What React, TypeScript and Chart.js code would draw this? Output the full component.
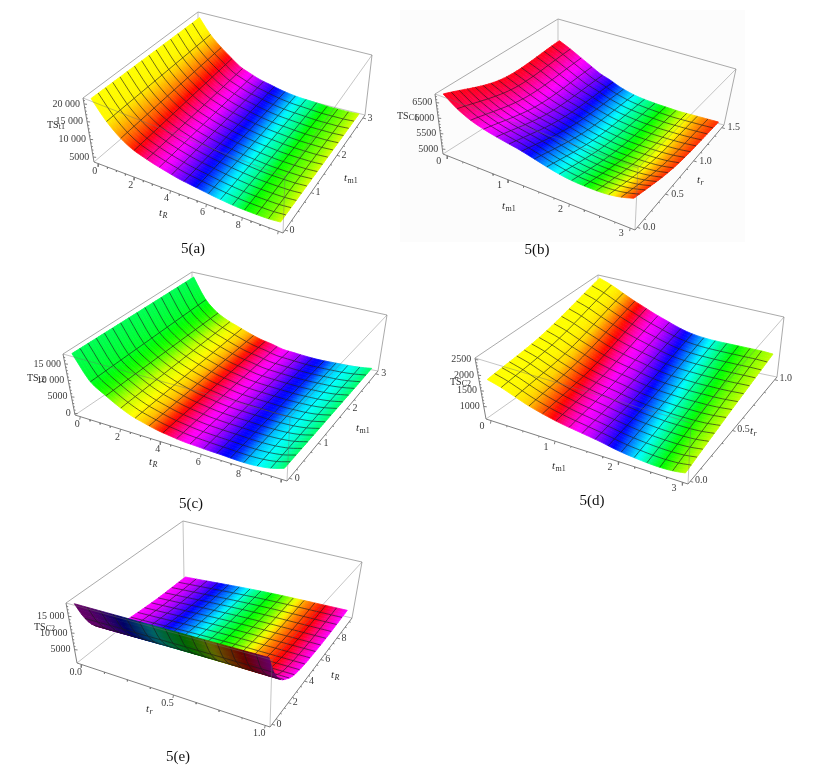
import { useEffect, useRef } from 'react';
import { Chart, registerables } from 'chart.js';

Chart.register(...registerables);

const W = 835;
const H = 773;
const MESH = 15;
const SUB_V = 3;
const SAMPLES_U = 48;
const INSET = 0.025;
const SERIF = '"Liberation Serif", "Times New Roman", serif';

// Grid positions of the 17 profile nodes along the long axis (fractions of the axis)
const nodes17 = [0, 1 / 16, 2 / 16, 3 / 16, 4 / 16, 5 / 16, 6 / 16, 7 / 16, 8 / 16, 9 / 16, 10 / 16, 11 / 16, 12 / 16, 13 / 16, 14 / 16, 15 / 16, 1];
const threeRows = [0, 0.5, 1];

// 5(a) TS_C1 over t_R, t_m1
const aNear = [21500, 16600, 13200, 11000, 9750, 8750, 7950, 7200, 6750, 6300, 5850, 5500, 5230, 5140, 5140, 5230, 5600];
const aMid = [21250, 16800, 13650, 11350, 9650, 8500, 7550, 6850, 6250, 5750, 5350, 5100, 4850, 4750, 4750, 4800, 5050];
const aFar = [21000, 17000, 14100, 11750, 9570, 8300, 7200, 6500, 5770, 5230, 4870, 4690, 4500, 4320, 4320, 4320, 4500];
const aHues = [60, 58, 35, 8, -25, -50, -68, -90, -112, -135, -165, -190, -210, -240, -255, -270, -290];

// 5(b) TS_C1 over t_m1, t_r
const bNear = [6780, 6470, 6256, 6120, 6023, 5946, 5878, 5790, 5694, 5606, 5538, 5500, 5490, 5490, 5519, 5587, 5694];
const bMid = [6120, 5965, 5810, 5674, 5568, 5490, 5412, 5325, 5238, 5180, 5131, 5102, 5092, 5092, 5102, 5131, 5189];
const bFar = [6198, 6043, 5868, 5694, 5519, 5403, 5267, 5170, 5102, 5063, 5034, 5015, 4995, 4995, 4995, 4995, 4995];
const bHues = [-5, -18, -38, -55, -68, -85, -100, -120, -148, -172, -195, -215, -238, -265, -295, -325, -350];

// 5(c) TS_t2 over t_R, t_m1
const cNear = [18000, 10970, 8010, 5605, 3755, 2645, 1720, 1165, 700, 520, 330, 240, 55, 0, 240, 795, 1905];
const cMid = [17720, 11430, 8380, 6250, 4680, 3480, 2460, 1810, 1165, 795, 610, 425, 240, 240, 330, 700, 1440];
const cFar = [17450, 11900, 8750, 6900, 5605, 4310, 3200, 2460, 1535, 1165, 795, 520, 425, 425, 425, 610, 980];
const cHues = [140, 130, 110, 75, 60, 45, 10, -25, -55, -70, -90, -115, -130, -165, -180, -195, -215];

// 5(d) TS_C2 over t_m1, t_r
const dNear = [1848, 1731, 1575, 1419, 1302, 1205, 1127, 1068, 1010, 951, 873, 815, 776, 746, 737, 756, 815];
const dMid = [2043, 1926, 1770, 1634, 1497, 1400, 1322, 1263, 1185, 1127, 1088, 1068, 1049, 1049, 1049, 1068, 1107];
const dFar = [2550, 2433, 2277, 2121, 1985, 1848, 1731, 1614, 1517, 1458, 1429, 1419, 1419, 1419, 1419, 1419, 1400];
const dHues = [60, 60, 58, 50, 25, 0, -35, -60, -72, -95, -120, -150, -180, -210, -240, -265, -285];

// 5(e) TS_C2 over t_r, t_R
const eCols = [0, 0.5, 1];
const eRows = [0, 0.05, 0.1, 0.15, 0.2, 0.3, 0.4, 0.55, 0.75, 1];
const eLeft = [18600, 13900, 10500, 8300, 6800, 4800, 3600, 3000, 2500, 2300];
const eCentre = [18600, 14000, 10900, 8700, 7300, 5300, 4300, 3800, 3500, 3600];
const eRight = [18600, 14000, 10900, 8700, 7300, 5300, 4400, 3900, 3700, 4000];
const eHues = [-60, -68, -85, -105, -128, -150, -175, -205, -225, -245, -265, -295, -325, -345, -365, -395, -420];

// Tick values
const ticksEvenR = [0, 2, 4, 6, 8];
const ticksM1 = [0, 1, 2, 3];
const ticksRShort = [0, 0.5, 1];
const ticksRLong = [0, 0.5, 1, 1.5];
const aZTicks = [5000, 10000, 15000, 20000];
const bZTicks = [5000, 5500, 6000, 6500];
const cZTicks = [0, 5000, 10000, 15000];
const dZTicks = [1000, 1500, 2000, 2500];
const eZTicks = [5000, 10000, 15000];

type Pt = number[];
type Axis = { ticks: number[]; max: number; decimals: number; off: Pt; label: string; sub: string; labelAt: Pt };
type Panel = {
  name: string;
  captionAt: Pt;
  c000: Pt; c100: Pt; c110: Pt; c010: Pt; c001: Pt; c101: Pt; c111: Pt; c011: Pt;
  zRange: number[];
  colStops: number[];
  rowStops: number[];
  rows: number[][];
  hues: number[];
  bandShift: number;
  xAxis: Axis;
  yAxis: Axis;
  zTicks: number[];
  zOff: number;
  zLabelAt: Pt;
  zSub: string;
};

const panels: Panel[] = [
  {
    name: '5(a)', captionAt: [193, 249],
    c000: [94, 162], c100: [283, 233], c110: [365, 115], c010: [198, 73],
    c001: [83, 98], c101: [285, 177], c111: [372, 55], c011: [198, 12],
    zRange: [3600, 21700], colStops: nodes17, rowStops: threeRows, rows: [aNear, aMid, aFar], hues: aHues, bandShift: 0.04,
    xAxis: { ticks: ticksEvenR, max: 10, decimals: 0, off: [-4, 8], label: 't', sub: 'R', labelAt: [165, 213] },
    yAxis: { ticks: ticksM1, max: 3, decimals: 0, off: [7, 0], label: 't', sub: 'm1', labelAt: [350, 178] },
    zTicks: aZTicks, zOff: -4, zLabelAt: [47, 125], zSub: 't1',
  },
  {
    name: '5(b)', captionAt: [537, 250],
    c000: [443, 154], c100: [635, 230], c110: [724, 125], c010: [558, 81],
    c001: [435, 94], c101: [638, 168], c111: [736, 69], c011: [558, 19],
    zRange: [4840, 6780], colStops: nodes17, rowStops: threeRows, rows: [bNear, bMid, bFar], hues: bHues, bandShift: 0.11,
    xAxis: { ticks: ticksM1, max: 3, decimals: 0, off: [-9, 5], label: 't', sub: 'm1', labelAt: [508, 206] },
    yAxis: { ticks: ticksRLong, max: 1.5, decimals: 1, off: [12, 0], label: 't', sub: 'r', labelAt: [703, 180] },
    zTicks: bZTicks, zOff: -4, zLabelAt: [397, 116], zSub: 'C1',
  },
  {
    name: '5(c)', captionAt: [191, 504],
    c000: [75, 415], c100: [287, 481], c110: [378, 371], c010: [192, 336],
    c001: [63, 354], c101: [290, 417], c111: [387, 315], c011: [192, 272],
    zRange: [-500, 18000], colStops: nodes17, rowStops: threeRows, rows: [cNear, cMid, cFar], hues: cHues, bandShift: 0.01,
    xAxis: { ticks: ticksEvenR, max: 10, decimals: 0, off: [-3, 8], label: 't', sub: 'R', labelAt: [155, 462] },
    yAxis: { ticks: ticksM1, max: 3, decimals: 0, off: [8, 0], label: 't', sub: 'm1', labelAt: [362, 428] },
    zTicks: cZTicks, zOff: -4, zLabelAt: [27, 378], zSub: 't2',
  },
  {
    name: '5(d)', captionAt: [592, 501],
    c000: [486, 419], c100: [688, 484], c110: [777, 377], c010: [598, 340],
    c001: [475, 358], c101: [691, 423], c111: [784, 317], c011: [598, 275],
    zRange: [600, 2550], colStops: nodes17, rowStops: threeRows, rows: [dNear, dMid, dFar], hues: dHues, bandShift: 0.12,
    xAxis: { ticks: ticksM1, max: 3, decimals: 0, off: [-9, 6], label: 't', sub: 'm1', labelAt: [558, 466] },
    yAxis: { ticks: ticksRShort, max: 1, decimals: 1, off: [11, -1], label: 't', sub: 'r', labelAt: [756, 431] },
    zTicks: dZTicks, zOff: -4, zLabelAt: [450, 382], zSub: 'C2',
  },
  {
    name: '5(e)', captionAt: [178, 757],
    c000: [77, 663], c100: [270, 727], c110: [352, 618], c010: [184, 578],
    c001: [66, 603], c101: [272, 660], c111: [362, 562], c011: [183, 521],
    zRange: [1000, 19000], colStops: eCols, rowStops: eRows, rows: eRows.map((_, i) => [eLeft[i], eCentre[i], eRight[i]]), hues: eHues, bandShift: 0,
    xAxis: { ticks: ticksRShort, max: 1, decimals: 1, off: [-6, 8], label: 't', sub: 'r', labelAt: [152, 709] },
    yAxis: { ticks: ticksEvenR, max: 9.6, decimals: 0, off: [7, 0], label: 't', sub: 'R', labelAt: [337, 675] },
    zTicks: eZTicks, zOff: -4, zLabelAt: [34, 627], zSub: 'C2',
  },
];

function interp(xs: number[], ys: number[], x: number) {
  const n = xs.length;
  let i = 0;
  while (i < n - 2 && x > xs[i + 1]) i++;
  const h = xs[i + 1] - xs[i];
  const t = (x - xs[i]) / h;
  const slope = (k: number) => {
    if (k <= 0) return (ys[1] - ys[0]) / (xs[1] - xs[0]);
    if (k >= n - 1) return (ys[n - 1] - ys[n - 2]) / (xs[n - 1] - xs[n - 2]);
    return (ys[k + 1] - ys[k - 1]) / (xs[k + 1] - xs[k - 1]);
  };
  const t2 = t * t;
  const t3 = t2 * t;
  return (2 * t3 - 3 * t2 + 1) * ys[i] + (t3 - 2 * t2 + t) * h * slope(i) + (-2 * t3 + 3 * t2) * ys[i + 1] + (t3 - t2) * h * slope(i + 1);
}

function project(p: Panel, u: number, v: number, w: number): Pt {
  const mix = (k: number) => {
    const b0 = p.c000[k] * (1 - u) + p.c100[k] * u;
    const b1 = p.c010[k] * (1 - u) + p.c110[k] * u;
    const t0 = p.c001[k] * (1 - u) + p.c101[k] * u;
    const t1 = p.c011[k] * (1 - u) + p.c111[k] * u;
    const b = b0 * (1 - v) + b1 * v;
    const t = t0 * (1 - v) + t1 * v;
    return b * (1 - w) + t * w;
  };
  return [mix(0), mix(1)];
}

const boxAt = (s: number) => INSET + (1 - 2 * INSET) * s;

function surfacePoint(p: Panel, u: number, v: number): Pt {
  const rowValues = p.rows.map((row) => interp(p.colStops, row, u));
  const z = interp(p.rowStops, rowValues, v);
  const w = (z - p.zRange[0]) / (p.zRange[1] - p.zRange[0]);
  return project(p, boxAt(u), boxAt(v), w);
}

function hueAt(p: Panel, u: number, v: number) {
  const shifted = Math.min(1, Math.max(0, u + p.bandShift * v * 4 * u * (1 - u)));
  const pos = shifted * 16;
  const i = Math.min(15, Math.floor(pos));
  const h = p.hues[i] + (p.hues[i + 1] - p.hues[i]) * (pos - i);
  return ((h % 360) + 360) % 360;
}

const toXY = (q: Pt) => ({ x: q[0], y: q[1] });
const GAP = { x: NaN, y: NaN };

function cross(a: Pt, b: Pt, c: Pt) {
  return (b[0] - a[0]) * (c[1] - a[1]) - (b[1] - a[1]) * (c[0] - a[0]);
}

function buildDatasets(ctx: CanvasRenderingContext2D) {
  const sets: any[] = [];
  const line = (data: any[], color: string, width: number) =>
    sets.push({ data, borderColor: color, borderWidth: width, pointRadius: 0, fill: false, tension: 0, showLine: true, spanGaps: false });
  const meshColor = 'rgba(25,25,25,0.62)';

  panels.forEach((p) => {
    const edge = (a: Pt, b: Pt) => [toXY(a), toXY(b), GAP];
    const grey = 'rgba(165,165,165,0.95)';
    // Box edges behind the surface
    line([...edge(p.c000, p.c010), ...edge(p.c010, p.c110), ...edge(p.c010, p.c011)], 'rgba(190,190,190,0.9)', 1);
    line([...edge(p.c001, p.c011), ...edge(p.c011, p.c111), ...edge(p.c111, p.c110)], grey, 1);

    // Surface, far rows first so that the near rows cover them
    const refSign = Math.sign(cross(project(p, 0.5, 0.5, 0), project(p, 0.6, 0.5, 0), project(p, 0.6, 0.6, 0)));
    for (let r = MESH - 1; r >= 0; r--) {
      const vNear = r / MESH;
      const vFar = (r + 1) / MESH;
      for (let s = SUB_V - 1; s >= 0; s--) {
        const v0 = vNear + ((vFar - vNear) * s) / SUB_V;
        const v1 = vNear + ((vFar - vNear) * (s + 1)) / SUB_V;
        const vm = (v0 + v1) / 2;
        const far: Pt[] = [];
        const near: Pt[] = [];
        const mid: Pt[] = [];
        for (let k = 0; k <= SAMPLES_U; k++) {
          const u = k / SAMPLES_U;
          far.push(surfacePoint(p, u, v1));
          near.push(surfacePoint(p, u, v0));
          mid.push(surfacePoint(p, u, vm));
        }
        const sign = Math.sign(cross(near[SAMPLES_U / 2], near[SAMPLES_U / 2 + 2], far[SAMPLES_U / 2 + 2]));
        const under = sign !== refSign && sign !== 0;
        const A = mid[0];
        const B = mid[SAMPLES_U];
        const grad = ctx.createLinearGradient(A[0], A[1], B[0], B[1]);
        const dx = B[0] - A[0];
        const dy = B[1] - A[1];
        const len2 = dx * dx + dy * dy;
        mid.forEach((m, k) => {
          const t = Math.min(1, Math.max(0, ((m[0] - A[0]) * dx + (m[1] - A[1]) * dy) / len2));
          grad.addColorStop(t, `hsl(${hueAt(p, k / SAMPLES_U, vm).toFixed(1)},100%,${under ? 20 : 50}%)`);
        });
        const ring = [...far, ...near.slice().reverse(), far[0]].map(toXY);
        sets.push({ data: ring, borderColor: grad, backgroundColor: grad, borderWidth: 0.8, pointRadius: 0, fill: 'shape', tension: 0, showLine: true });
      }
      // Mesh line along the long axis at this row's far side (the outer boundary has none)
      if (r < MESH - 1) {
        const along: any[] = [];
        for (let k = 0; k <= SAMPLES_U; k++) along.push(toXY(surfacePoint(p, k / SAMPLES_U, vFar)));
        line(along, meshColor, 1);
      }
      // Mesh lines across this row
      const across: any[] = [];
      for (let c = 1; c < MESH; c++) {
        for (let s = 0; s <= SUB_V; s++) across.push(toXY(surfacePoint(p, c / MESH, vFar + ((vNear - vFar) * s) / SUB_V)));
        if (c < MESH - 1) across.push(GAP);
      }
      line(across, meshColor, 1);
    }

    // Box edges in front of the surface
    line([...edge(p.c001, p.c101), ...edge(p.c101, p.c111), ...edge(p.c100, p.c101)], 'rgba(110,110,110,0.4)', 1);

    // Axis edges and tick marks
    const axisData: any[] = [...edge(p.c000, p.c100), ...edge(p.c100, p.c110), ...edge(p.c000, p.c001)];
    const addTick = (a: Pt, dir: Pt, size: number) => axisData.push(toXY(a), toXY([a[0] + dir[0] * size, a[1] + dir[1] * size]), GAP);
    const minor = 4;
    const alongAxis = (ax: Axis, at: (s: number) => Pt, dir: Pt) => {
      const step = ax.ticks[1] - ax.ticks[0];
      for (let i = 0; i * step / minor <= ax.max; i++) {
        const val = (i * step) / minor;
        addTick(at(boxAt(val / ax.max)), dir, i % minor === 0 ? 3 : 1.5);
      }
    };
    alongAxis(p.xAxis, (s) => project(p, s, 0, 0), [-0.2, 1]);
    alongAxis(p.yAxis, (s) => project(p, 1, s, 0), [1, 0.3]);
    const [zMin, zMax] = p.zRange;
    const zStep = (p.zTicks[1] - p.zTicks[0]) / 5;
    for (let z = p.zTicks[0]; z < zMax; z += zStep) {
      const major = Math.abs(((z - p.zTicks[0]) / zStep) % 5) < 1e-6;
      addTick(project(p, 0, 0, (z - zMin) / (zMax - zMin)), [1, 0.1], major ? 3 : 1.5);
    }
    line(axisData, 'rgba(120,120,120,0.95)', 1);
  });

  sets.forEach((d, i) => {
    d.order = -i;
  });
  return sets;
}

function formatTick(value: number, decimals: number) {
  if (decimals > 0) return value.toFixed(decimals);
  if (value >= 10000) {
    const s = String(value);
    return `${s.slice(0, -3)} ${s.slice(-3)}`;
  }
  return String(value);
}

const textPlugin = {
  id: 'panelText',
  beforeDraw(chart: any) {
    const { ctx, scales } = chart;
    const left = scales.x.getPixelForValue(400);
    const right = scales.x.getPixelForValue(745);
    const top = scales.y.getPixelForValue(10);
    const bottom = scales.y.getPixelForValue(242);
    ctx.save();
    ctx.fillStyle = '#fcfcfc';
    ctx.fillRect(left, top, right - left, bottom - top);
    ctx.restore();
  },
  afterDraw(chart: any) {
    const { ctx, scales } = chart;
    const X = (v: number) => scales.x.getPixelForValue(v);
    const Y = (v: number) => scales.y.getPixelForValue(v);
    ctx.save();
    ctx.textBaseline = 'middle';
    panels.forEach((p) => {
      ctx.fillStyle = '#3d3d3d';
      ctx.font = `10px ${SERIF}`;
      ctx.textAlign = 'center';
      const axisTicks = (ax: Axis, at: (s: number) => Pt) => {
        ax.ticks.forEach((t) => {
          const q = at(boxAt(t / ax.max));
          ctx.fillText(formatTick(t, ax.decimals), X(q[0] + ax.off[0]), Y(q[1] + ax.off[1]));
        });
      };
      axisTicks(p.xAxis, (s) => project(p, s, 0, 0));
      axisTicks(p.yAxis, (s) => project(p, 1, s, 0));
      ctx.textAlign = 'right';
      p.zTicks.forEach((z) => {
        const q = project(p, 0, 0, (z - p.zRange[0]) / (p.zRange[1] - p.zRange[0]));
        ctx.fillText(formatTick(z, 0), X(q[0] + p.zOff), Y(q[1]));
      });
      ctx.textAlign = 'left';
      ctx.fillStyle = '#2d2d2d';
      ctx.font = `10px ${SERIF}`;
      const zx = X(p.zLabelAt[0]);
      const zy = Y(p.zLabelAt[1]);
      ctx.fillText('TS', zx, zy);
      const tsW = ctx.measureText('TS').width;
      ctx.font = `8px ${SERIF}`;
      ctx.fillText(p.zSub, zx + tsW, zy + 2);
      [p.xAxis, p.yAxis].forEach((ax) => {
        ctx.font = `italic 11px ${SERIF}`;
        const w1 = ctx.measureText(ax.label).width;
        const ix = X(ax.labelAt[0]) - 6;
        const iy = Y(ax.labelAt[1]);
        ctx.fillText(ax.label, ix, iy);
        ctx.font = `${ax.sub === 'm1' ? '' : 'italic '}8px ${SERIF}`;
        ctx.fillText(ax.sub, ix + w1 + 0.5, iy + 2.5);
      });
      ctx.fillStyle = '#111';
      ctx.font = `15px ${SERIF}`;
      ctx.textAlign = 'center';
      ctx.fillText(p.name, X(p.captionAt[0]), Y(p.captionAt[1]));
    });
    ctx.restore();
  },
};

export default function App() {
  const ref = useRef<HTMLCanvasElement>(null);
  useEffect(() => {
    const canvas = ref.current;
    if (!canvas) return;
    const ctx = canvas.getContext('2d') as CanvasRenderingContext2D;
    const chart = new Chart(ctx, {
      type: 'line',
      data: { datasets: buildDatasets(ctx) },
      plugins: [textPlugin],
      options: {
        animation: false,
        responsive: false,
        events: [],
        parsing: { xAxisKey: 'x', yAxisKey: 'y' },
        layout: { padding: 0 },
        scales: {
          x: { type: 'linear', display: false, min: 0, max: W },
          y: { type: 'linear', display: false, min: 0, max: H, reverse: true },
        },
        plugins: {
          legend: { display: false },
          tooltip: { enabled: false },
          filler: { drawTime: 'beforeDatasetDraw', propagate: false },
        },
      },
    } as any);
    return () => chart.destroy();
  }, []);
  return (
    <canvas
      ref={ref}
      width={W}
      height={H}
      style={{ position: 'absolute', left: 0, top: 0, width: W, height: H, filter: 'blur(0.55px)' }}
    />
  );
}
